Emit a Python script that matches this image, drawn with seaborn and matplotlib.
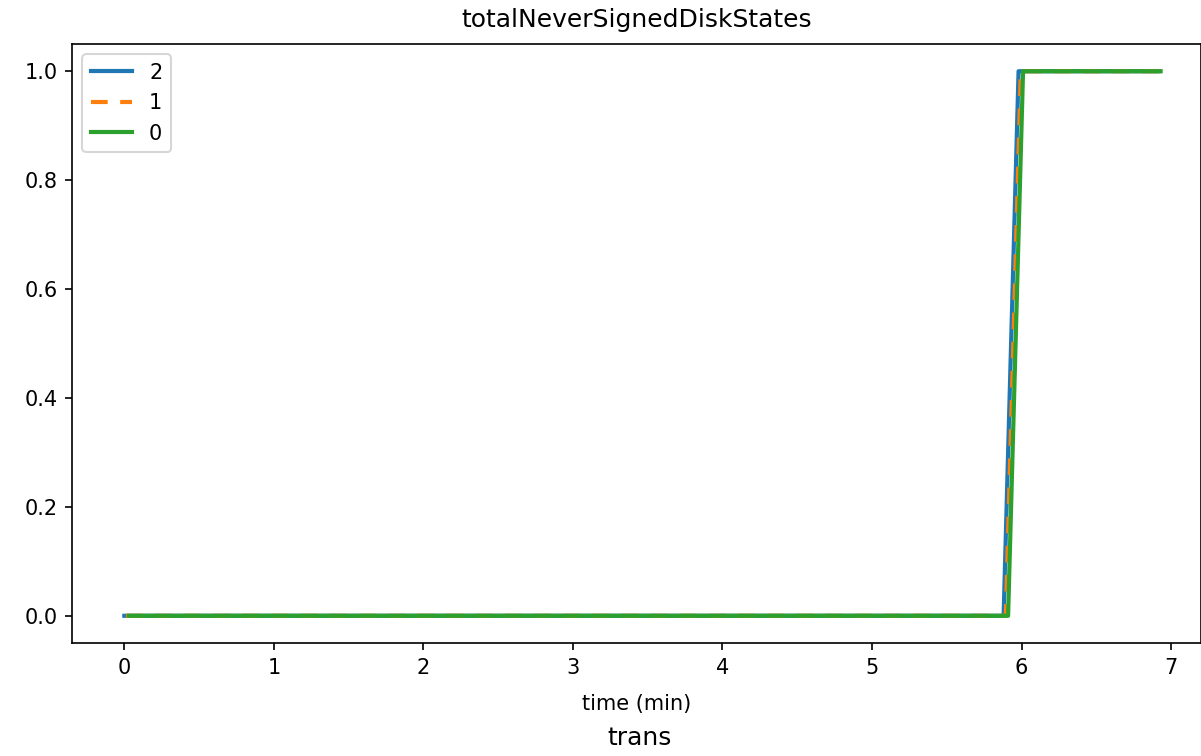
import matplotlib
matplotlib.use("Agg")
import matplotlib.pyplot as plt
import seaborn as sns
import pandas as pd

# data (time in minutes)
time_2 = [0.0, 5.88, 5.98, 6.92]
vals_2 = [0, 0, 1, 1]
time_1 = [0.01, 5.895, 5.995, 6.925]
vals_1 = [0, 0, 1, 1]
time_0 = [0.03, 5.91, 6.01, 6.93]
vals_0 = [0, 0, 1, 1]
series = ['2', '1', '0']

frames = []
for name, t, v in zip(series, [time_2, time_1, time_0], [vals_2, vals_1, vals_0]):
    frames.append(pd.DataFrame({'time (min)': t, 'value': v, 'run': name}))
df = pd.concat(frames, ignore_index=True)

fig = plt.figure(figsize=(1201 / 150, 756 / 150), dpi=150)
ax = fig.add_axes([72 / 1201, 1 - 643 / 756, 1129 / 1201, 599 / 756])

sns.lineplot(data=df, x='time (min)', y='value', hue='run', style='run',
             hue_order=series, style_order=series,
             palette=['#1f77b4', '#ff7f0e', '#2ca02c'],
             dashes={'2': '', '1': (4, 3), '0': ''},
             linewidth=2, ax=ax)

ax.set_title('totalNeverSignedDiskStates', fontsize=12, pad=8)
ax.set_ylabel('')
ax.set_xlabel('time (min)', fontsize=10, labelpad=8)
ax.tick_params(labelsize=10)
ax.set_xlim(-0.35, 7.2)
ax.set_ylim(-0.05, 1.05)
ax.legend(loc='upper left', fontsize=10)
fig.text(640 / 1201, 1 - 738 / 756, 'trans', ha='center', va='center', fontsize=12)

fig.savefig('out.png', dpi=150)
